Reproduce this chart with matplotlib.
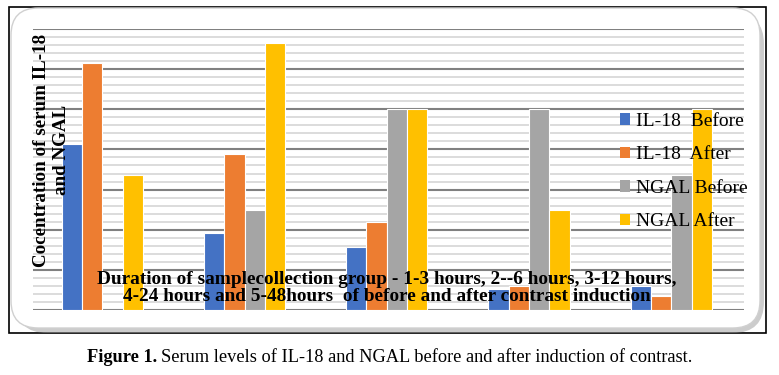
import numpy as np
import matplotlib.pyplot as plt
from matplotlib.patches import FancyBboxPatch, Rectangle, Patch

# group values (in major-gridline units)
groups = ["1", "2", "3", "4", "5"]
il18_before = [4.13, 1.91, 1.58, 0.52, 0.60]
il18_after = [6.16, 3.89, 2.20, 0.60, 0.36]
ngal_before = [0.0, 2.49, 5.0, 5.0, 3.36]
ngal_after = [3.36, 6.64, 5.0, 2.49, 5.0]
series_names = ["IL-18  Before", "IL-18  After", "NGAL Before", "NGAL After"]
colors = ["#4472C4", "#ED7D31", "#A5A5A5", "#FFC000"]

plt.rcParams['font.family'] = ['Liberation Serif', 'DejaVu Serif']

W, H = 779, 375
fig = plt.figure(figsize=(W / 100, H / 100), dpi=100)

# outer black frame + rounded panel with shadow
fig.patches.append(Rectangle((9 / W, 1 - 333 / H), 757 / W, 326 / H,
                             transform=fig.transFigure, fill=False,
                             edgecolor="black", linewidth=1.2, zorder=-3))
shadow = FancyBboxPatch((16 / W, 1 - 333 / H), 748 / W, 320 / H,
                        boxstyle="round,pad=0,rounding_size=0.04",
                        transform=fig.transFigure, facecolor="#9a9a9a",
                        edgecolor="none", alpha=0.5, zorder=-2,
                        mutation_aspect=W / H)
fig.patches.append(shadow)
panel = FancyBboxPatch((11 / W, 1 - 328 / H), 749 / W, 320 / H,
                       boxstyle="round,pad=0,rounding_size=0.035",
                       transform=fig.transFigure, facecolor="white",
                       edgecolor="#d0d0d0", linewidth=1.0, zorder=-1,
                       mutation_aspect=W / H)
fig.patches.append(panel)

ax = fig.add_axes([33 / W, 1 - 310 / H, 711 / W, 281 / H])
ax.set_facecolor("none")
ax.set_zorder(2)

x = np.arange(len(groups))
bw = 0.143
data = [il18_before, il18_after, ngal_before, ngal_after]
for i, vals in enumerate(data):
    off = (i - 1.5) * bw - 0.012
    ax.bar(x + off, vals, bw, color=colors[i], edgecolor="white",
           linewidth=0.8, label=series_names[i], zorder=3)

ax.set_xlim(-0.5, 4.5)
ax.set_ylim(0, 7)
ax.set_yticks(np.arange(0, 7.01, 1))
ax.set_yticks(np.arange(0, 7.01, 0.2), minor=True)
ax.grid(axis="y", which="minor", color="#d9d9d9", linewidth=1.3, zorder=1)
ax.grid(axis="y", which="major", color="#808080", linewidth=1.5, zorder=2)
ax.set_xticks([])
ax.tick_params(axis="y", which="both", length=0, labelleft=False)
for s in ax.spines.values():
    s.set_visible(False)

# axis titles, drawn inside the plot like the original
ax.text(0.0, 0.569, "Cocentration of serum IL-18\nand NGAL", transform=ax.transAxes,
        rotation=90, ha="left", va="center", multialignment="center",
        fontsize=13.7, fontweight="bold", linespacing=1.2, zorder=6)
ax.text(0.498, 0.078, "Duration of samplecollection group - 1-3 hours, 2--6 hours, 3-12 hours,\n"
        "4-24 hours and 5-48hours  of before and after contrast induction",
        transform=ax.transAxes, ha="center", va="center", multialignment="center",
        fontsize=13.9, fontweight="bold", linespacing=1.05, zorder=6)

handles = [Patch(facecolor=c, edgecolor="none") for c in colors]
leg = fig.legend(handles, series_names, loc="upper left",
                 bbox_to_anchor=(612 / W, 1 - 105 / H), frameon=False,
                 fontsize=14, handlelength=0.55, handleheight=0.55,
                 handletextpad=0.3, labelspacing=0.85, borderaxespad=0)
leg.set_zorder(7)

# caption: bold "Figure 1." then regular text
t1 = fig.text(87 / W, 1 - 357 / H, "Figure 1.", ha="left", va="center",
              fontsize=13.2, fontweight="bold")
fig.canvas.draw()
bb = t1.get_window_extent()
fig.text((bb.x1 + 4) / W, 1 - 357 / H,
         "Serum levels of IL-18 and NGAL before and after induction of contrast.",
         ha="left", va="center", fontsize=13.2)

fig.savefig("out.png", dpi=100)
